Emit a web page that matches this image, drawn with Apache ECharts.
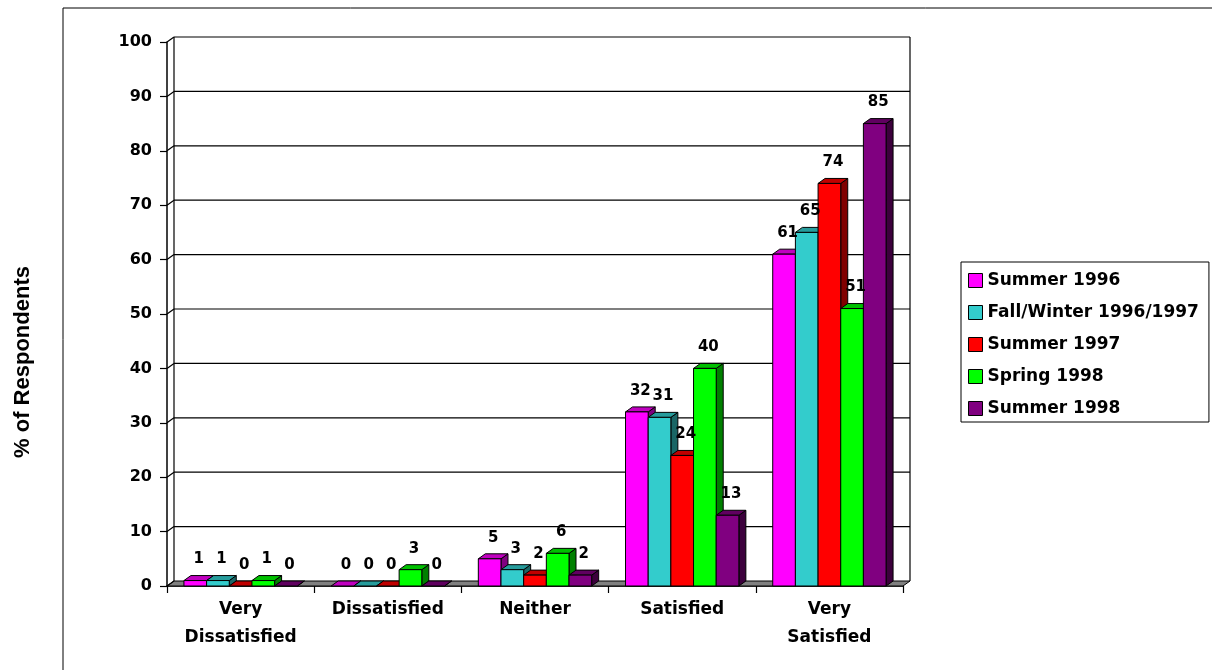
<!DOCTYPE html>
<html><head><meta charset="utf-8">
<script src="https://cdn.jsdelivr.net/npm/echarts@6/dist/echarts.min.js"></script>
<style>html,body{margin:0;padding:0;background:#fff}#c{width:1212px;height:670px}</style>
</head><body><div id="c"></div>
<script>
// ---- data ----
const categories = ['Very\nDissatisfied', 'Dissatisfied', 'Neither', 'Satisfied', 'Very\nSatisfied'];
const seriesNames = ['Summer 1996', 'Fall/Winter 1996/1997', 'Summer 1997', 'Spring 1998', 'Summer 1998'];
const summer1996 = [1, 0, 5, 32, 61];
const fallWinter1996 = [1, 0, 3, 31, 65];
const summer1997 = [0, 0, 2, 24, 74];
const spring1998 = [1, 3, 6, 40, 51];
const summer1998 = [0, 0, 2, 13, 85];
const yTicks = [0, 10, 20, 30, 40, 50, 60, 70, 80, 90, 100];

const seriesValues = [summer1996, fallWinter1996, summer1997, spring1998, summer1998];
// face, top, side colours
const palette = [
  ['#FF00FF', '#C000C0', '#800080'],
  ['#33CCCC', '#269C9C', '#1A6666'],
  ['#FF0000', '#C00000', '#800000'],
  ['#00FF00', '#00C000', '#008000'],
  ['#800080', '#600060', '#3C003C']
];
const DX = 7, DY = 5;
const GROUP_FRAC = 0.77;
const FONT = '"DejaVu Sans", sans-serif';

function renderWalls(params, api) {
  const w = api.size([1, 0])[0];
  const n = categories.length;
  const x0 = api.coord([0, 0])[0] - w / 2;
  const x1 = api.coord([n - 1, 0])[0] + w / 2;
  const yb = api.coord([0, 0])[1];
  const yTop = api.coord([0, yTicks[yTicks.length - 1]])[1];
  const ls = { stroke: '#000', lineWidth: 1.2 };
  const children = [];
  children.push({ type: 'polygon', shape: { points: [[x0, yb], [x1, yb], [x1 + DX, yb - DY], [x0 + DX, yb - DY]] },
    style: { fill: '#808080', stroke: '#000', lineWidth: 1 } });
  yTicks.forEach(v => {
    const y = api.coord([0, v])[1];
    if (v > 0) children.push({ type: 'line', shape: { x1: x0 + DX, y1: y - DY, x2: x1 + DX, y2: y - DY }, style: ls });
    children.push({ type: 'line', shape: { x1: x0, y1: y, x2: x0 + DX, y2: y - DY }, style: ls });
  });
  children.push({ type: 'line', shape: { x1: x0 + DX, y1: yb - DY, x2: x0 + DX, y2: yTop - DY }, style: ls });
  children.push({ type: 'line', shape: { x1: x1 + DX, y1: yb - DY, x2: x1 + DX, y2: yTop - DY }, style: ls });
  return { type: 'group', children };
}

function barGeom(api, cat, val, si) {
  const w = api.size([1, 0])[0];
  const gw = w * GROUP_FRAC;
  const bw = gw / seriesValues.length;
  const c = api.coord([cat, 0]);
  const xl = c[0] - gw / 2 + si * bw;
  return { xl, xr: xl + bw, yb: c[1], yt: api.coord([cat, val])[1] };
}

function makeBarRenderer(si) {
  return function (params, api) {
    const { xl, xr, yb, yt } = barGeom(api, api.value(0), api.value(1), si);
    const col = palette[si];
    const st = { stroke: '#000', lineWidth: 1 };
    const children = [
      { type: 'polygon', shape: { points: [[xr, yb], [xr + DX, yb - DY], [xr + DX, yt - DY], [xr, yt]] },
        style: Object.assign({ fill: col[2] }, st) },
      { type: 'polygon', shape: { points: [[xl, yt], [xr, yt], [xr + DX, yt - DY], [xl + DX, yt - DY]] },
        style: Object.assign({ fill: col[1] }, st) }
    ];
    if (yb - yt > 0.5) {
      children.push({ type: 'rect', shape: { x: xl, y: yt, width: xr - xl, height: yb - yt },
        style: Object.assign({ fill: col[0] }, st) });
    }
    return { type: 'group', children };
  };
}

function renderLabel(params, api) {
  const cat = api.value(0), val = api.value(1), si = api.value(2);
  const { xl, xr, yt } = barGeom(api, cat, val, si);
  return { type: 'text', style: { text: String(val), x: (xl + xr) / 2 + DX / 2, y: yt - 21,
    align: 'center', verticalAlign: 'middle', font: 'bold 15px ' + FONT, fill: '#000' } };
}

const series = [{
  type: 'custom', name: '_walls', coordinateSystem: 'cartesian2d', renderItem: renderWalls,
  data: [[0, 0]], silent: true, z: 1
}];
const labelData = [];
seriesNames.forEach((name, si) => {
  series.push({
    type: 'custom', name, coordinateSystem: 'cartesian2d', renderItem: makeBarRenderer(si),
    itemStyle: { color: palette[si][0], borderColor: '#000', borderWidth: 1 },
    data: seriesValues[si].map((v, i) => [i, v]), z: 2
  });
  seriesValues[si].forEach((v, i) => labelData.push([i, v, si]));
});
series.push({ type: 'custom', name: '_labels', coordinateSystem: 'cartesian2d', renderItem: renderLabel,
  data: labelData, silent: true, z: 5 });

const chart = echarts.init(document.getElementById('c'), null, { renderer: 'canvas' });
chart.setOption({
  animation: false,
  backgroundColor: '#fff',
  grid: { left: 167, top: 42, right: 309, bottom: 84 },
  xAxis: {
    type: 'category', data: categories,
    axisLine: { lineStyle: { color: '#000', width: 1.5 } },
    axisTick: { show: true, length: 7, lineStyle: { color: '#000', width: 1.2 } },
    axisLabel: { color: '#000', fontFamily: FONT, fontWeight: 'bold', fontSize: 17, margin: 10, lineHeight: 28, interval: 0 },
    splitLine: { show: false }
  },
  yAxis: {
    type: 'value', min: 0, max: 100, interval: 10,
    axisLine: { show: true, lineStyle: { color: '#000', width: 1.5 } },
    axisTick: { show: true, length: 7, lineStyle: { color: '#000', width: 1.2 } },
    axisLabel: { color: '#000', fontFamily: FONT, fontWeight: 'bold', fontSize: 16, margin: 15 },
    splitLine: { show: false }
  },
  legend: {
    data: seriesNames, orient: 'vertical', left: 961, top: 262,
    icon: 'rect', itemWidth: 14, itemHeight: 14, itemGap: 15,
    padding: [10, 10, 5, 7],
    backgroundColor: '#fff', borderColor: '#000', borderWidth: 1,
    itemStyle: { borderColor: '#000', borderWidth: 1 },
    textStyle: { color: '#000', fontFamily: FONT, fontWeight: 'bold', fontSize: 17, lineHeight: 17 }
  },
  graphic: [
    { type: 'rect', shape: { x: 63, y: 8, width: 1180, height: 700 }, style: { fill: 'none', stroke: '#000', lineWidth: 1 }, silent: true },
    { type: 'text', x: 23, y: 362, rotation: Math.PI / 2,
      style: { text: '% of Respondents', font: 'bold 22px "Liberation Sans", Arial, sans-serif', fill: '#000', align: 'center', verticalAlign: 'middle' } }
  ],
  series
});
</script>
</body></html>
